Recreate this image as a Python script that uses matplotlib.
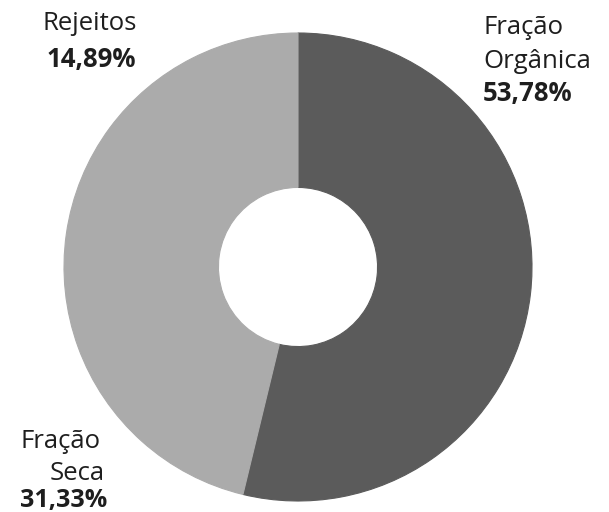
import matplotlib.pyplot as plt

plt.rcParams['font.family'] = ['Open Sans', 'DejaVu Sans']

# dados
categorias = ["Fração Orgânica", "Fração Seca", "Rejeitos"]
valores = [53.78, 31.33, 14.89]
cores = ['#5b5b5b', '#ababab', '#ababab']

W, H = 609, 512
fig = plt.figure(figsize=(W / 100, H / 100), dpi=100)

# donut: centro ~ (298, 267) px, raio ~ 234 px
cx, cy, r = 298, 267, 234
ax = fig.add_axes([(cx - r) / W, (H - cy - r) / H, 2 * r / W, 2 * r / H])
fatias, _ = ax.pie(valores, colors=cores, startangle=90, counterclock=False,
                   radius=1, wedgeprops=dict(width=0.66))
for f, c in zip(fatias, cores):
    f.set_edgecolor(c)
    f.set_linewidth(0.8)
ax.set_xlim(-1, 1)
ax.set_ylim(-1, 1)
ax.set_aspect('equal')
ax.axis('off')


def txt(x, y, s, ha, bold=False, size=18.5):
    fig.text(x / W, 1 - y / H, s, ha=ha, va='center', fontsize=size,
             fontweight='bold' if bold else 'normal', color='#1e1e1e')


def pct(v):
    return f"{v:.2f}%".replace('.', ',')


# rótulos
txt(90, 24, "Rejeitos", 'center')
txt(91, 59, pct(valores[2]), 'center', bold=True)

txt(483, 27, "Fração", 'left')
txt(483, 62, "Orgânica", 'left')
txt(483, 93, pct(valores[0]), 'left', bold=True)

txt(101, 441, "Fração", 'right')
txt(105, 473, "Seca", 'right')
txt(107, 500, pct(valores[1]), 'right', bold=True, size=18)

fig.savefig("out.png", dpi=100)
